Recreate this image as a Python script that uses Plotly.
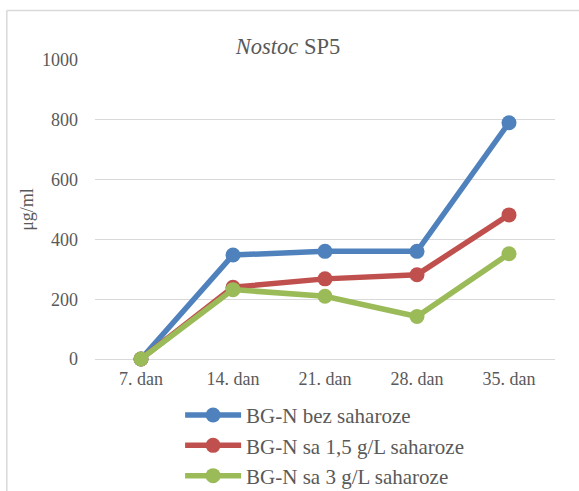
import plotly.graph_objects as go

categories = ["7. dan", "14. dan", "21. dan", "28. dan", "35. dan"]
series_names = ["BG-N bez saharoze", "BG-N sa 1,5 g/L saharoze", "BG-N sa 3 g/L saharoze"]
bez = [0, 348, 360, 360, 790]
sa_15 = [0, 240, 268, 282, 482]
sa_3 = [0, 232, 210, 142, 352]
colors = ["#4F81BD", "#C0504D", "#9BBB59"]
y_ticks = [0, 200, 400, 600, 800, 1000]

FONT = "Liberation Serif"
GREY = "#595959"
FRAME = "#d9d9d9"

W, H = 579, 491

fig = go.Figure()
for name, vals, col in zip(series_names, [bez, sa_15, sa_3], colors):
    fig.add_trace(go.Scatter(
        x=categories, y=vals, name=name, mode="lines+markers",
        line=dict(color=col, width=5.5),
        marker=dict(color=col, size=15),
        cliponaxis=False,
    ))

fx0 = (6.8 - 95) / 460
fy1 = (359 - 10.5) / 299
fig.update_layout(
    width=W, height=H,
    margin=dict(l=95, r=24, t=60, b=132, autoexpand=False),
    paper_bgcolor="white", plot_bgcolor="white",
    font=dict(family=FONT, color=GREY, size=18),
    title=dict(text="<i>Nostoc</i> SP5", x=288 / W, xref="container", xanchor="center",
               y=1 - 46 / H, yref="container", yanchor="middle",
               font=dict(family=FONT, size=22.5, color=GREY)),
    xaxis=dict(type="category", range=[-0.5, 4.5], showgrid=False, zeroline=False,
               showline=False, ticks="", tickfont=dict(family=FONT, size=18, color=GREY),
               ticklabelstandoff=7, automargin=False),
    yaxis=dict(range=[0, 1000], tickvals=y_ticks, showgrid=True, gridcolor=FRAME,
               gridwidth=1.3, zeroline=True, zerolinecolor=FRAME, zerolinewidth=1.3,
               showline=False, ticks="", tickfont=dict(family=FONT, size=18, color=GREY),
               ticklabelstandoff=16, automargin=False,
               title=dict(text="μg/ml", font=dict(family=FONT, size=18, color=GREY), standoff=3)),
    legend=dict(x=0.185, y=-0.12, xanchor="left", yanchor="top",
                font=dict(size=21, color=GREY, family=FONT),
                itemwidth=56, bgcolor="rgba(0,0,0,0)"),
    shapes=[
        dict(type="line", xref="paper", yref="paper", x0=fx0, x1=1.3, y0=fy1, y1=fy1,
             line=dict(color=FRAME, width=1.5), layer="below"),
        dict(type="line", xref="paper", yref="paper", x0=fx0, x1=fx0, y0=-0.7, y1=fy1,
             line=dict(color=FRAME, width=1.5), layer="below"),
    ],
)

fig.write_html("out.html", config={"displayModeBar": False},
               post_script="document.body.style.margin='0';")
